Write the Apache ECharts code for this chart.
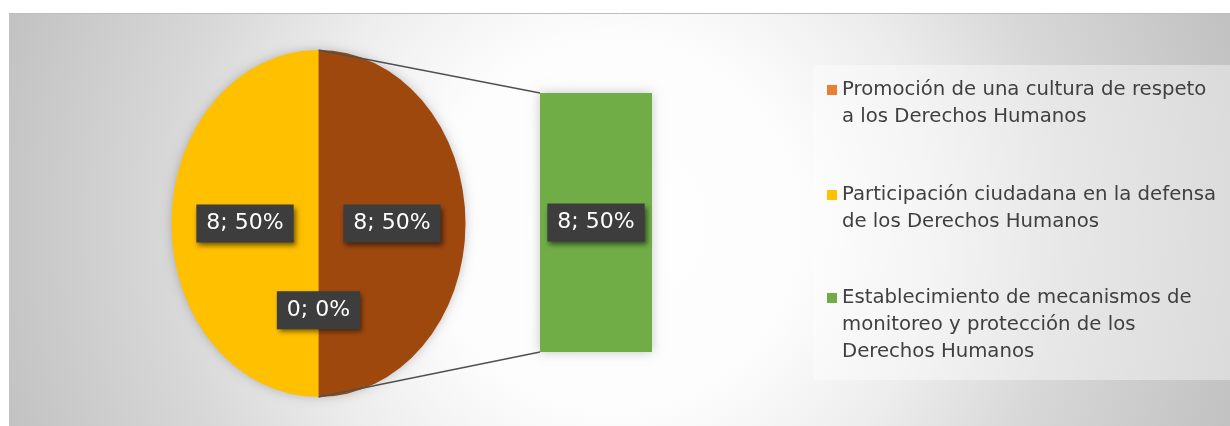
<!DOCTYPE html>
<html><head><meta charset="utf-8">
<script src="https://cdn.jsdelivr.net/npm/echarts@6/dist/echarts.min.js"></script>
<style>html,body{margin:0;padding:0;background:#fff}#c{width:1230px;height:426px}</style>
</head><body><div id="c"></div>
<script>
// ---- data ----
const categories = [
  'Promoción de una cultura de respeto a los Derechos Humanos',
  'Participación ciudadana en la defensa de los Derechos Humanos',
  'Establecimiento de mecanismos de monitoreo y protección de los Derechos Humanos'
];
const legendLabels = [
  'Promoción de una cultura de respeto\na los Derechos Humanos',
  'Participación ciudadana en la defensa\nde los Derechos Humanos',
  'Establecimiento de mecanismos de\nmonitoreo y protección de los\nDerechos Humanos'
];
const values = [0, 8, 8];
const inBarPlot = [false, false, true];
const otherName = 'Otro';

// ---- styles ----
const colors = ['#ED7D31', '#FFC000', '#70AD47'];
const otherColor = '#9E480E';
const PIE = {cx: 318.5, cy: 223.5, rx: 147, ry: 173.5};
const FONT = '"DejaVu Sans", sans-serif';
const labelBox = {
  color: '#fff', fontFamily: FONT, fontSize: 22, lineHeight: 26,
  backgroundColor: '#3d3d3d', padding: [6, 10],
  shadowBlur: 5, shadowOffsetX: 2, shadowOffsetY: 3, shadowColor: 'rgba(0,0,0,0.55)'
};

const total = values.reduce((a, b) => a + b, 0);
const pct = v => Math.round(v / total * 100) + '%';
const otherValue = values.filter((v, i) => inBarPlot[i]).reduce((a, b) => a + b, 0);

// pie items: "other" first from 12 o'clock clockwise, then the remaining categories
const pieItems = [{name: otherName, value: otherValue, color: otherColor}];
categories.forEach((c, i) => { if (!inBarPlot[i]) pieItems.push({name: c, value: values[i], color: colors[i]}); });

let acc = 0;
const series = [];
pieItems.forEach((item, k) => {
  const start = -Math.PI / 2 + acc / total * Math.PI * 2;
  acc += item.value;
  const end = -Math.PI / 2 + acc / total * Math.PI * 2;
  series.push({
    type: 'custom', name: item.name, coordinateSystem: 'none',
    itemStyle: {color: item.color}, silent: true,
    data: [[item.value]],
    renderItem: function (params, api) {
      const v = api.value(0);
      const children = [];
      if (k === 0) {
        children.push({type: 'ellipse', z2: -5,
          shape: {cx: PIE.cx, cy: PIE.cy, rx: PIE.rx - 1.5, ry: PIE.ry - 1.5},
          style: {fill: '#b07030', shadowBlur: 12, shadowColor: 'rgba(0,0,0,0.28)'}});
      }
      if (end > start) {
        children.push({type: 'sector', x: PIE.cx, y: PIE.cy, scaleX: PIE.rx / PIE.ry, scaleY: 1,
          shape: {cx: 0, cy: 0, r0: 0, r: PIE.ry, startAngle: start, endAngle: end, clockwise: true},
          style: {fill: item.color}});
      }
      const mid = (start + end) / 2;
      children.push({type: 'text', z2: 100,
        style: Object.assign({
          text: v + '; ' + pct(v),
          x: PIE.cx + 0.5 * PIE.rx * Math.cos(mid),
          y: PIE.cy + 0.5 * PIE.ry * Math.sin(mid),
          align: 'center', verticalAlign: 'middle', fill: '#fff'
        }, labelBox)});
      return {type: 'group', children};
    }
  });
});

categories.forEach((c, i) => {
  if (!inBarPlot[i]) return;
  series.push({
    type: 'bar', name: c, stack: 'other', data: [values[i]], barWidth: '100%', silent: true,
    itemStyle: {color: colors[i], shadowBlur: 10, shadowColor: 'rgba(0,0,0,0.22)'},
    label: Object.assign({show: true, position: 'inside', formatter: p => p.value + '; ' + pct(p.value)}, labelBox)
  });
});

const legendTops = [49.5, 154.5, 230.5];
const legends = categories.map((c, i) => {
  const nLines = legendLabels[i].split('\n').length;
  const blanks = nLines - 1;
  return {
    show: true, data: [{name: c, icon: 'rect'}], orient: 'vertical',
    left: 827, top: legendTops[i], padding: 0, itemWidth: 10, itemHeight: 10, itemGap: 0,
    selectedMode: false,
    formatter: () => '\n'.repeat(blanks) + legendLabels[i],
    textStyle: {fontFamily: FONT, fontSize: 19.7, lineHeight: 27, color: '#404040'}
  };
});

const chart = echarts.init(document.getElementById('c'), null, {renderer: 'canvas'});
const background = [
  {type: 'rect', z: -10, shape: {x: 9, y: 13, width: 1221, height: 413},
    style: {fill: {type: 'radial', x: 615, y: 225, r: 640, global: true, colorStops: [
      {offset: 0, color: '#ffffff'}, {offset: 0.3, color: '#fcfcfc'}, {offset: 0.5, color: '#ededed'},
      {offset: 0.7, color: '#d8d8d8'}, {offset: 1, color: '#c2c2c2'}]}}},
  {type: 'line', z: -9, shape: {x1: 9, y1: 13.5, x2: 1230, y2: 13.5}, style: {stroke: '#bdbdbd', lineWidth: 1}},
  {type: 'rect', z: -8, shape: {x: 813, y: 65, width: 417, height: 315},
    style: {fill: 'rgba(255,255,255,0.4)'}}
];
chart.setOption({
  backgroundColor: '#ffffff',
  animation: false,
  legend: legends,
  grid: {left: 540, width: 112, top: 93, height: 259, containLabel: false},
  xAxis: {type: 'category', data: [otherName], show: false},
  yAxis: {type: 'value', min: 0, max: otherValue, show: false},
  graphic: background,
  series: series
});
// connector lines from pie top/bottom to the bar's corners
const pTop = chart.convertToPixel({gridIndex: 0}, [0, otherValue]);
const pBot = chart.convertToPixel({gridIndex: 0}, [0, 0]);
const half = 112 / 2;
chart.setOption({graphic: background.concat([
  {type: 'line', z: 3, shape: {x1: PIE.cx, y1: PIE.cy - PIE.ry, x2: pTop[0] - half, y2: pTop[1]},
    style: {stroke: '#505050', lineWidth: 1.4}},
  {type: 'line', z: 3, shape: {x1: PIE.cx, y1: PIE.cy + PIE.ry, x2: pBot[0] - half, y2: pBot[1]},
    style: {stroke: '#505050', lineWidth: 1.4}}
])});
</script></body></html>
